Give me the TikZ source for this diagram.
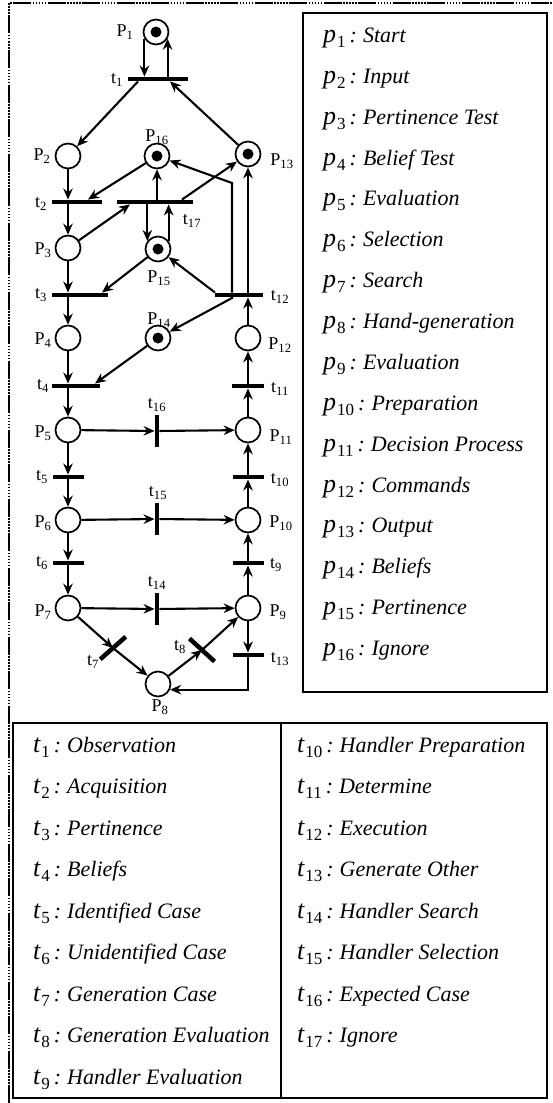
\documentclass[tikz,border=0pt]{standalone}
\usepackage{fontspec}
\setmainfont{Liberation Serif}
\usetikzlibrary{arrows.meta,calc,backgrounds}
\newcommand\lbl[2]{#1\textsubscript{#2}}
\newcommand\pent[3]{{\fontsize{26}{26}\selectfont\itshape #1}\kern1pt\raisebox{-5.5pt}{\fontsize{17}{17}\selectfont #2}\kern4pt\textit{:}\kern6pt\textit{#3}}
\begin{document}
\begin{tikzpicture}[x=1pt,y=-1pt,
  place/.style={circle,draw,line width=1.7pt,minimum size=25pt,inner sep=0pt},
  marked/.style={place,path picture={\fill (path picture bounding box.center) circle (5.5pt);}},
  tbar/.style={rectangle,fill=black,draw=none,inner sep=0pt,minimum height=4.5pt},
  vbar/.style={rectangle,fill=black,draw=none,inner sep=0pt,minimum width=4.5pt,minimum height=32pt},
  arc/.style={line width=2.1pt,-{Stealth[length=11pt,width=9.5pt]}},
  lab/.style={inner sep=0pt,font=\fontsize{18}{18}\selectfont},
  leg/.style={inner sep=0pt,anchor=base west,font=\fontsize{22}{22}\selectfont},
  frame/.style={line width=2.5pt,dash pattern=on 18pt off 1.5pt on 1.5pt off 1.5pt on 1.5pt off 1.5pt on 1.5pt off 1.5pt on 1.5pt off 1.5pt on 1.5pt off 1.5pt}
]
\useasboundingbox (0,0) rectangle (552,1103);

% places
\node[marked] (P1) at (156,32) {};
\node[place] (P2) at (68,156) {};
\node[place] (P3) at (68,248) {};
\node[place] (P4) at (68,338) {};
\node[place] (P5) at (68,430) {};
\node[place] (P6) at (68,520) {};
\node[place] (P7) at (68,608) {};
\node[place] (P8) at (158,684) {};
\node[place] (P9) at (248,608) {};
\node[place] (P10) at (248,520) {};
\node[place] (P11) at (248,430) {};
\node[place] (P12) at (248,338) {};
\node[marked] (P13) at (248,154) {};
\node[marked] (P14) at (158,338) {};
\node[marked] (P15) at (158,249) {};
\node[marked] (P16) at (157,156) {};

% transitions
\node[tbar,minimum width=60pt] (t1) at (158,79) {};
\node[tbar,minimum width=50pt] (t2) at (77,202) {};
\node[tbar,minimum width=76pt] (t17) at (155,202) {};
\node[tbar,minimum width=56pt] (t3) at (80,295) {};
\node[tbar,minimum width=48pt] (t12) at (239,295) {};
\node[tbar,minimum width=48pt] (t4) at (76,386) {};
\node[tbar,minimum width=32pt] (t11) at (248,386) {};
\node[tbar,minimum width=31pt] (t5) at (68,477) {};
\node[tbar,minimum width=31pt] (t10) at (248,477) {};
\node[tbar,minimum width=31pt] (t6) at (68,563) {};
\node[tbar,minimum width=31pt] (t9) at (248,563) {};
\node[tbar,minimum width=31pt] (t13) at (248,655) {};
\node[vbar] (t16) at (157,431) {};
\node[vbar] (t15) at (157,519) {};
\node[vbar] (t14) at (157,609) {};
\node[tbar,minimum width=34pt,rotate=41.5] (t7) at (113,648) {};
\node[tbar,minimum width=34pt,rotate=-42.5] (t8) at (202,650) {};
\coordinate (b16) at (232,183);

% labels
\node[lab] (lP1) at (125,32) {\lbl{P}{1}};
\node[lab] (lP2) at (42,156) {\lbl{P}{2}};
\node[lab] (lP3) at (43,250) {\lbl{P}{3}};
\node[lab] (lP4) at (43,340) {\lbl{P}{4}};
\node[lab] (lP5) at (43,433) {\lbl{P}{5}};
\node[lab] (lP6) at (43,523) {\lbl{P}{6}};
\node[lab] (lP7) at (43,612) {\lbl{P}{7}};
\node[lab] (lP8) at (160,707) {\lbl{P}{8}};
\node[lab] (lP9) at (278,612) {\lbl{P}{9}};
\node[lab] (lP10) at (281,523) {\lbl{P}{10}};
\node[lab] (lP11) at (281,437) {\lbl{P}{11}};
\node[lab] (lP12) at (280,345) {\lbl{P}{12}};
\node[lab] (lP13) at (282,161) {\lbl{P}{13}};
\node[lab] (lP14) at (159,320) {\lbl{P}{14}};
\node[lab] (lP15) at (159,278) {\lbl{P}{15}};
\node[lab] (lP16) at (157,137) {\lbl{P}{16}};
\node[lab] (lt1) at (117,80) {\lbl{t}{1}};
\node[lab] (lt2) at (41,204) {\lbl{t}{2}};
\node[lab] (lt3) at (41,295) {\lbl{t}{3}};
\node[lab] (lt4) at (43,386) {\lbl{t}{4}};
\node[lab] (lt5) at (42,477) {\lbl{t}{5}};
\node[lab] (lt6) at (42,563) {\lbl{t}{6}};
\node[lab] (lt7) at (93,662) {\lbl{t}{7}};
\node[lab] (lt8) at (180,647) {\lbl{t}{8}};
\node[lab] (lt9) at (276,565) {\lbl{t}{9}};
\node[lab] (lt10) at (280,480) {\lbl{t}{10}};
\node[lab] (lt11) at (280,389) {\lbl{t}{11}};
\node[lab] (lt12) at (280,297) {\lbl{t}{12}};
\node[lab] (lt13) at (280,659) {\lbl{t}{13}};
\node[lab] (lt14) at (157,583) {\lbl{t}{14}};
\node[lab] (lt15) at (158,493) {\lbl{t}{15}};
\node[lab] (lt16) at (157,405) {\lbl{t}{16}};
\node[lab] (lt17) at (192,221) {\lbl{t}{17}};

\begin{scope}[on background layer]
\fill[white] (0,0) rectangle (552,1103);
\draw[arc] (P1.-150) -- (P1.-150 |- t1.north);
\draw[arc] (P1.-30 |- t1.north) -- (P1.-30);
\draw[arc] ([xshift=-20pt]t1.south) -- (P2);
\draw[arc] (P13) -- ([xshift=12pt]t1.south);
\draw[arc] (P2) -- (P2 |- t2.north);
\draw[arc] (P3 |- t2.south) -- (P3);
\draw[arc] (P16) -- ([xshift=11pt]t2.north);
\draw[arc] (P3) -- ([xshift=-25pt]t17.south);
\draw[arc] (t17.north -| P16) -- (P16);
\draw[arc] ([xshift=27pt]t17.north) -- (P13);
\draw[arc] (t17.south -| P15.143) -- (P15.143);
\draw[arc] (P15.37) -- (P15.37 |- t17.south);
\draw[arc] (P3) -- (P3 |- t3.north);
\draw[arc] (P4 |- t3.south) -- (P4);
\draw[arc] (P15) -- ([xshift=22pt]t3.north);
\draw[arc] ([xshift=-24pt]t12.north) -- (P15);
\draw[arc] ([xshift=-6pt]t12.south) -- (P14);
\draw[arc] (t12.north -| b16) -- (b16) -- (P16);
\draw[arc] (t12.north -| P13) -- (P13);
\draw[arc] (P12) -- (P12 |- t12.south);
\draw[arc] (P4) -- (P4 |- t4.north);
\draw[arc] (P5 |- t4.south) -- (P5);
\draw[arc] (P14) -- ([xshift=19pt]t4.north);
\draw[arc] (P11) -- (P11 |- t11.south);
\draw[arc] (P12 |- t11.north) -- (P12);
\draw[arc] (P5) -- (t16);
\draw[arc] (t16) -- (P11);
\draw[arc] (P6) -- (t15);
\draw[arc] (t15) -- (P10);
\draw[arc] (P7) -- (t14);
\draw[arc] (t14) -- (P9);
\draw[arc] (P5) -- (P5 |- t5.north);
\draw[arc] (P6 |- t5.south) -- (P6);
\draw[arc] (P6) -- (P6 |- t6.north);
\draw[arc] (P7 |- t6.south) -- (P7);
\draw[arc] (P10) -- (P10 |- t10.south);
\draw[arc] (P11 |- t10.north) -- (P11);
\draw[arc] (P9) -- (P9 |- t9.south);
\draw[arc] (P10 |- t9.north) -- (P10);
\draw[arc] (P9) -- (P9 |- t13.north);
\draw[arc] (t13.south) -- (t13.south |- P8.-25) -- (P8.-25);
\draw[arc] (P7) -- (t7.center);
\draw[arc] (t7.center) -- (P8);
\draw[arc] (P8) -- (t8.center);
\draw[arc] (t8.center) -- (P9);
\end{scope}

% frame
\draw[frame] (9,1103) -- (9,3) -- (552,3);

% right legend
\draw[line width=1.3pt] (303,13) rectangle (547,692);
\node[leg] (lg1) at (323,42) {\pent{p}{1}{Start}};
\node[leg] (lg2) at (323,83) {\pent{p}{2}{Input}};
\node[leg] (lg3) at (323,124) {\pent{p}{3}{Pertinence Test}};
\node[leg] (lg4) at (323,165) {\pent{p}{4}{Belief Test}};
\node[leg] (lg5) at (323,205) {\pent{p}{5}{Evaluation}};
\node[leg] (lg6) at (323,246) {\pent{p}{6}{Selection}};
\node[leg] (lg7) at (323,287) {\pent{p}{7}{Search}};
\node[leg] (lg8) at (323,328) {\pent{p}{8}{Hand-generation}};
\node[leg] (lg9) at (323,369) {\pent{p}{9}{Evaluation}};
\node[leg] (lg10) at (323,410) {\pent{p}{10}{Preparation}};
\node[leg] (lg11) at (323,451) {\pent{p}{11}{Decision Process}};
\node[leg] (lg12) at (323,492) {\pent{p}{12}{Commands}};
\node[leg] (lg13) at (323,532) {\pent{p}{13}{Output}};
\node[leg] (lg14) at (323,573) {\pent{p}{14}{Beliefs}};
\node[leg] (lg15) at (323,614) {\pent{p}{15}{Pertinence}};
\node[leg] (lg16) at (323,655) {\pent{p}{16}{Ignore}};

% bottom legend
\draw[line width=1.3pt] (13,723) rectangle (547,1098);
\draw[line width=1.3pt] (281,723) -- (281,1098);
\node[leg] (lt1e) at (33,752) {\pent{t}{1}{Observation}};
\node[leg] (lt2e) at (33,793) {\pent{t}{2}{Acquisition}};
\node[leg] (lt3e) at (33,835) {\pent{t}{3}{Pertinence}};
\node[leg] (lt4e) at (33,876) {\pent{t}{4}{Beliefs}};
\node[leg] (lt5e) at (33,918) {\pent{t}{5}{Identified Case}};
\node[leg] (lt6e) at (33,959) {\pent{t}{6}{Unidentified Case}};
\node[leg] (lt7e) at (33,1001) {\pent{t}{7}{Generation Case}};
\node[leg] (lt8e) at (33,1042) {\pent{t}{8}{Generation Evaluation}};
\node[leg] (lt9e) at (33,1084) {\pent{t}{9}{Handler Evaluation}};
\node[leg] (lt10e) at (297,752) {\pent{t}{10}{Handler Preparation}};
\node[leg] (lt11e) at (297,793) {\pent{t}{11}{Determine}};
\node[leg] (lt12e) at (297,835) {\pent{t}{12}{Execution}};
\node[leg] (lt13e) at (297,876) {\pent{t}{13}{Generate Other}};
\node[leg] (lt14e) at (297,918) {\pent{t}{14}{Handler Search}};
\node[leg] (lt15e) at (297,959) {\pent{t}{15}{Handler Selection}};
\node[leg] (lt16e) at (297,1001) {\pent{t}{16}{Expected Case}};
\node[leg] (lt17e) at (297,1042) {\pent{t}{17}{Ignore}};
\end{tikzpicture}
\end{document}
